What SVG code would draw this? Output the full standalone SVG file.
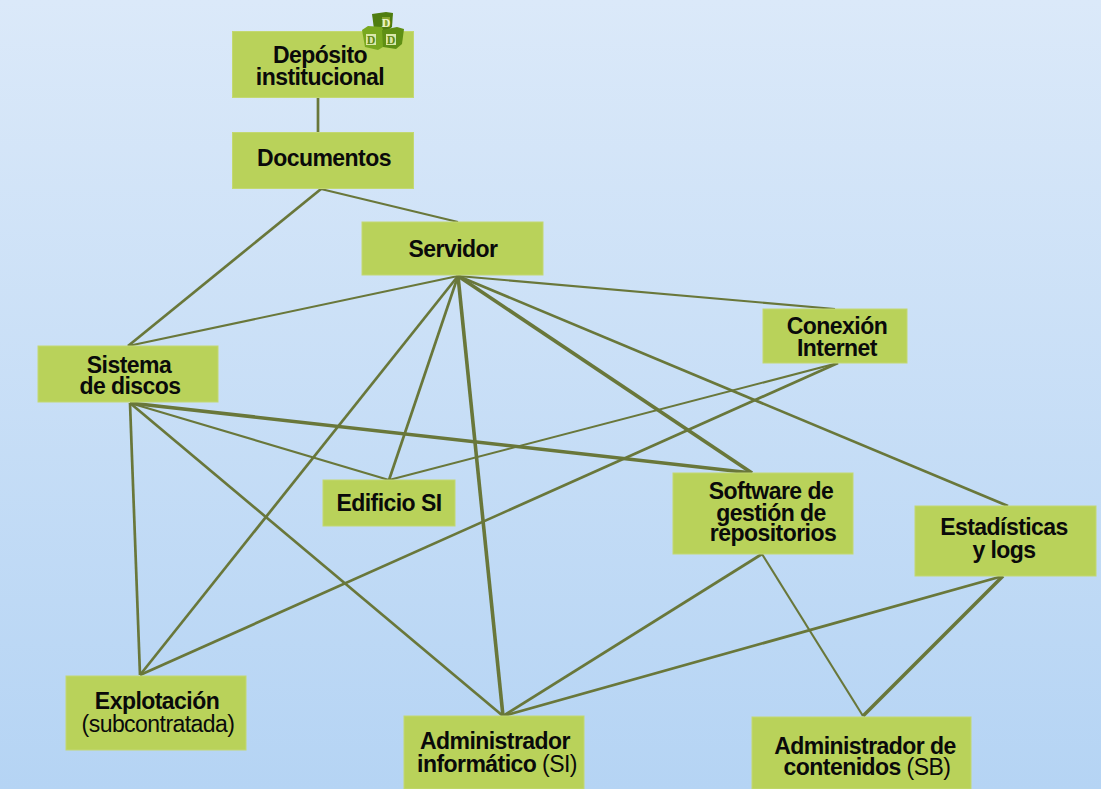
<svg xmlns="http://www.w3.org/2000/svg" width="1101" height="789" viewBox="0 0 1101 789">
<style>
.box{fill:#b9d25a;stroke:#c3d872;stroke-width:1}
.t{font-family:"Liberation Sans",Arial,sans-serif;font-size:23px;font-weight:700;fill:#0a0a0a;text-anchor:middle;letter-spacing:-.55px}
.r{font-weight:400}
#connectors line{stroke:#69773a;stroke-width:2.7;fill:none}
#connectors line.thick{stroke-width:3.6}
#connectors line.thin{stroke-width:2.1}
.cl{font-family:"Liberation Serif",serif;font-size:12px;font-weight:700;text-anchor:middle}
</style>
<defs><linearGradient id="bg" x1="0" y1="0" x2="0" y2="1"><stop offset="0" stop-color="#dbe9f9"/><stop offset="1" stop-color="#b5d4f4"/></linearGradient></defs>
<rect width="1101" height="789" fill="url(#bg)"/>
<g id="connectors">
<line x1="318" y1="97" x2="318" y2="132"/>
<line x1="321" y1="189" x2="128" y2="346"/>
<line x1="321" y1="189" x2="458" y2="222" class="thin"/>
<line x1="458" y1="276" x2="128" y2="346" class="thin"/>
<line x1="458" y1="276" x2="835" y2="309" class="thin"/>
<line x1="458" y1="276" x2="140" y2="675"/>
<line x1="458" y1="276" x2="389" y2="480"/>
<line x1="458" y1="276" x2="503" y2="716" class="thick"/>
<line x1="458" y1="276" x2="752" y2="473" class="thick"/>
<line x1="458" y1="276" x2="1008" y2="506"/>
<line x1="838" y1="363" x2="389" y2="480" class="thin"/>
<line x1="838" y1="363" x2="140" y2="675"/>
<line x1="130" y1="403" x2="140" y2="675"/>
<line x1="130" y1="403" x2="389" y2="480" class="thin"/>
<line x1="130" y1="403" x2="752" y2="473" class="thick"/>
<line x1="130" y1="403" x2="503" y2="716"/>
<line x1="762" y1="554" x2="503" y2="716"/>
<line x1="762" y1="554" x2="863" y2="716" class="thin"/>
<line x1="1003" y1="576" x2="503" y2="716"/>
<line x1="1003" y1="576" x2="863" y2="716" class="thick"/>
</g>
<g id="deposito"><rect class="box" x="232.500" y="31.500" width="181" height="66"/><text class="t" x="320" y="63">Depósito</text><text class="t" x="320" y="85">institucional</text></g>
<g id="logo">
<path d="M372 14l14-2 7 1-1 14-6 5-12-3z" fill="#4f7d10"/><path d="M362 30l6-4 14 1 2 5-1 15-5 3-13-3z" fill="#79a81f"/><path d="M382 30l15-3 7 2-2 15-6 5-13-2z" fill="#5f8f14"/>
<rect x="382" y="17" width="8" height="10" fill="#86a62e"/><rect x="366" y="34" width="10" height="11" fill="#dbe8a8"/><rect x="386" y="34" width="10" height="11" fill="#dbe8a8"/>
<text class="cl" x="386" y="27" style="fill:#eef5cc">D</text><text class="cl" x="371" y="44" style="fill:#5f8a12">D</text><text class="cl" x="391" y="44" style="fill:#5f8a12">D</text></g>
<g id="documentos"><rect class="box" x="232.500" y="132.500" width="181" height="56"/><text class="t" x="324" y="166">Documentos</text></g>
<g id="servidor"><rect class="box" x="362" y="222" width="181" height="53"/><text class="t" x="453" y="257">Servidor</text></g>
<g id="sistema"><rect class="box" x="38" y="346" width="180" height="56"/><text class="t" x="129" y="373">Sistema</text><text class="t" x="130" y="394">de discos</text></g>
<g id="conexion"><rect class="box" x="763" y="309" width="144" height="54"/><text class="t" x="837" y="334">Conexión</text><text class="t" x="837" y="356">Internet</text></g>
<g id="edificio"><rect class="box" x="323" y="480" width="132" height="46"/><text class="t" x="389" y="511">Edificio SI</text></g>
<g id="software"><rect class="box" x="673" y="473" width="180" height="81"/><text class="t" x="771" y="499">Software de</text><text class="t" x="771" y="521">gestión de</text><text class="t" x="773" y="541">repositorios</text></g>
<g id="estadisticas"><rect class="box" x="915" y="506" width="181" height="70"/><text class="t" x="1004" y="535">Estadísticas</text><text class="t" x="1004" y="558">y logs</text></g>
<g id="explotacion"><rect class="box" x="66" y="676" width="180" height="74"/><text class="t" x="157" y="709">Explotación</text><text class="t r" x="158" y="732">(subcontratada)</text></g>
<g id="adminsi"><rect class="box" x="404" y="716" width="180" height="73"/><text class="t" x="495" y="749">Administrador</text><text class="t" x="497" y="772">informático <tspan class="r">(SI)</tspan></text></g>
<g id="admincont"><rect class="box" x="752" y="717" width="219" height="72"/><text class="t" x="865" y="754">Administrador de</text><text class="t" x="867" y="775">contenidos <tspan class="r">(SB)</tspan></text></g>
</svg>
